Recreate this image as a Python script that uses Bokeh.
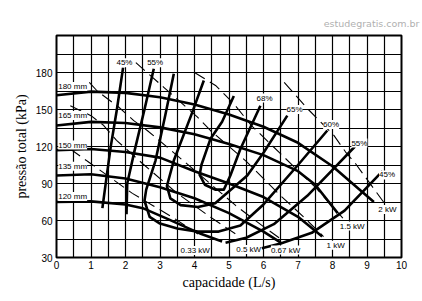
from bokeh.plotting import figure
from bokeh.models import FixedTicker, ColumnDataSource, LabelSet
from bokeh.core.properties import value
from bokeh.embed import file_html
from bokeh.resources import INLINE

# ---- data ----
x_ticks = [0, 1, 2, 3, 4, 5, 6, 7, 8, 9, 10]
y_ticks = [30, 60, 90, 120, 150, 180]

# impeller head curves (capacity L/s, head kPa)
diam_names = ["180 mm", "165 mm", "150 mm", "135 mm", "120 mm"]
q_180 = [0, 1, 2, 3, 4, 5, 6, 7, 8, 9.2]
h_180 = [161.5, 164.5, 163.5, 160, 154, 146, 136, 123, 104, 75]
q_165 = [0, 1, 2, 3, 4, 5, 6, 7, 7.5, 8.15]
h_165 = [137, 140, 139, 135.5, 130, 122, 113, 100, 89, 66]
q_150 = [0, 1, 2, 3, 4, 5, 6, 7, 7.7]
h_150 = [117, 118, 115.5, 111, 100, 90, 79, 63, 47]
q_135 = [0, 1, 2, 3, 4, 5, 6, 6.5]
h_135 = [96.5, 97.5, 94, 87, 78, 66, 51, 42]
q_120 = [0, 1, 2, 2.5, 3.2, 4.2, 4.8]
h_120 = [75, 75.5, 73, 70, 61.5, 49, 43]

# efficiency contours
eff_names = ["45%", "55%", "60%", "65%", "68%"]
q_e45a = [1.93, 1.75, 1.57, 1.45, 1.33]
h_e45a = [184, 150, 119.5, 95, 70]
q_e55a = [2.82, 2.55, 2.25, 2.05, 2.03]
h_e55a = [183, 150, 115, 90, 65]
q_e60 = [3.4, 3.15, 2.87, 2.6, 2.55, 2.7, 3.0, 3.5, 4.1, 4.7, 5.33, 6.0, 7.0, 7.85]
h_e60 = [179, 145, 108.6, 85, 76, 63, 57.5, 53.5, 51, 51, 56, 73, 105, 133]
q_e65 = [4.27, 3.9, 3.4, 3.2, 3.3, 3.6, 4.1, 4.6, 5.53, 6.01, 6.69]
h_e65 = [173.5, 145, 108.6, 88, 78, 72.5, 71, 74, 96.5, 115.4, 145]
q_e68 = [5.14, 4.8, 4.46, 4.2, 4.15, 4.3, 4.6, 4.85, 5.04, 5.33, 5.91]
h_e68 = [161, 140, 126, 105, 97, 89, 85, 85, 96.5, 118, 153]
q_e55b = [8.65, 8.0, 7.27, 6.3, 5.5, 4.9]
h_e55b = [120, 101, 80, 57, 46, 42]
q_e45b = [9.45, 8.9, 8.35, 7.4, 6.5, 5.95]
h_e45b = [100, 84, 68, 50, 41.4, 37.5]

# power lines
pow_names = ["0.33 kW", "0.5 kW", "0.67 kW", "1 kW", "1.5 kW", "2 kW"]
q_p033 = [0.4, 1.0, 1.6, 2.2, 2.8, 3.4, 4.1]
h_p033 = [118, 106, 94, 82, 72, 62, 49]
q_p05 = [0.4, 1.0, 1.37, 1.74, 2.5, 3.5, 4.5, 5.3]
h_p05 = [153, 145, 137, 125, 106, 82, 62, 47]
q_p067 = [0.95, 1.18, 1.8, 2.24, 2.63, 3.21, 4.2, 5.2, 6.0, 6.45]
h_p067 = [172, 165, 152, 141, 133, 119.5, 96, 72, 55, 46]
q_p1 = [2.3, 3.11, 4.08, 4.46, 5.5, 6.5, 7.16, 7.74]
h_p1 = [188, 168, 144, 133, 108, 80, 63, 47]
q_p15 = [4.0, 4.61, 5.14, 5.65, 6.5, 7.5, 8.3]
h_p15 = [180, 169.5, 154.6, 137, 114, 87, 62]
q_p2 = [6.6, 7.3, 8.04, 8.38, 8.67, 9.48]
h_p2 = [172, 150, 129, 115.5, 106, 75]

# label anchor positions (data units)
diam_lx = [0.05, 0.05, 0.05, 0.05, 0.05]
diam_ly = [168.7, 145.1, 121.2, 104, 79.5]
eff_lbl = ["45%", "55%", "68%", "65%", "60%", "55%", "45%"]
eff_lx = [1.97, 2.86, 6.03, 6.9, 7.96, 8.78, 9.58]
eff_ly = [188, 188, 159.3, 150, 137.8, 122.8, 96.9]
pow_lx = [4.02, 5.57, 6.64, 8.09, 8.57, 9.59]
pow_ly = [35.7, 36.5, 36, 40, 55.5, 69]

# ---- figure ----
p = figure(frame_width=345, frame_height=222, x_range=(0, 10), y_range=(30, 210),
           output_backend="svg", toolbar_location=None,
           min_border_left=56, min_border_right=21, min_border_top=35, min_border_bottom=44)
p.background_fill_color = "white"
p.border_fill_color = "white"
p.outline_line_color = "black"
p.outline_line_width = 2

p.title.text = "estudegratis.com.br"
p.title.align = "right"
p.title.vertical_align = "top"
p.title.text_font = "DejaVu Sans"
p.title.text_font_size = "9.5px"
p.title.text_font_style = "normal"
p.title.text_color = "#b0b0b0"
p.title.offset = -18
p.title.standoff = 10

for ax in (p.xaxis, p.yaxis):
    ax.axis_line_color = None
    ax.major_tick_line_color = None
    ax.minor_tick_line_color = None
    ax.major_tick_out = 0
    ax.major_tick_in = 0
    ax.minor_tick_out = 0
    ax.minor_tick_in = 0
    ax.major_label_text_font = "Liberation Sans"
    ax.major_label_text_font_size = "10px"
    ax.major_label_text_color = "black"
    ax.axis_label_text_font = "Liberation Serif"
    ax.axis_label_text_font_size = "14px"
    ax.axis_label_text_font_style = "normal"
    ax.axis_label_text_color = "black"

p.xaxis.ticker = FixedTicker(ticks=x_ticks)
p.yaxis.ticker = FixedTicker(ticks=y_ticks)
p.xaxis.axis_label = "capacidade (L/s)"
p.yaxis.axis_label = "pressão total (kPa)"
p.xaxis.major_label_standoff = 3
p.yaxis.major_label_standoff = 4
p.xaxis.axis_label_standoff = 3
p.yaxis.axis_label_standoff = 4

p.xgrid.ticker = FixedTicker(ticks=[i * 0.5 for i in range(21)])
p.ygrid.ticker = FixedTicker(ticks=[30 + 15 * i for i in range(13)])
for g in (p.xgrid, p.ygrid):
    g.grid_line_color = "black"
    g.grid_line_width = 1.2
    g.grid_line_alpha = 1.0

thick = dict(line_color="black", line_width=2.6)
for q, h in [(q_180, h_180), (q_165, h_165), (q_150, h_150), (q_135, h_135), (q_120, h_120)]:
    p.line(q, h, **thick)
for q, h in [(q_e45a, h_e45a), (q_e55a, h_e55a), (q_e60, h_e60), (q_e65, h_e65),
             (q_e68, h_e68), (q_e55b, h_e55b), (q_e45b, h_e45b)]:
    p.line(q, h, line_join="round", **thick)

thin = dict(line_color="black", line_width=1.1, line_dash="12 6")
for q, h in [(q_p033, h_p033), (q_p05, h_p05), (q_p067, h_p067), (q_p1, h_p1),
             (q_p15, h_p15), (q_p2, h_p2)]:
    p.line(q, h, **thin)

lbl_style = dict(text_font=value("Liberation Sans"), text_font_size="8px",
                 text_color="black", background_fill_color="white",
                 text_baseline="middle")
src_d = ColumnDataSource(dict(x=diam_lx, y=diam_ly, t=diam_names))
p.add_layout(LabelSet(x="x", y="y", text="t", source=src_d, text_align="left", **lbl_style))
src_e = ColumnDataSource(dict(x=eff_lx, y=eff_ly, t=eff_lbl))
p.add_layout(LabelSet(x="x", y="y", text="t", source=src_e, text_align="center", **lbl_style))
src_p = ColumnDataSource(dict(x=pow_lx, y=pow_ly, t=pow_names))
p.add_layout(LabelSet(x="x", y="y", text="t", source=src_p, text_align="center", **lbl_style))

open("out.html", "w").write(file_html(p, INLINE))
